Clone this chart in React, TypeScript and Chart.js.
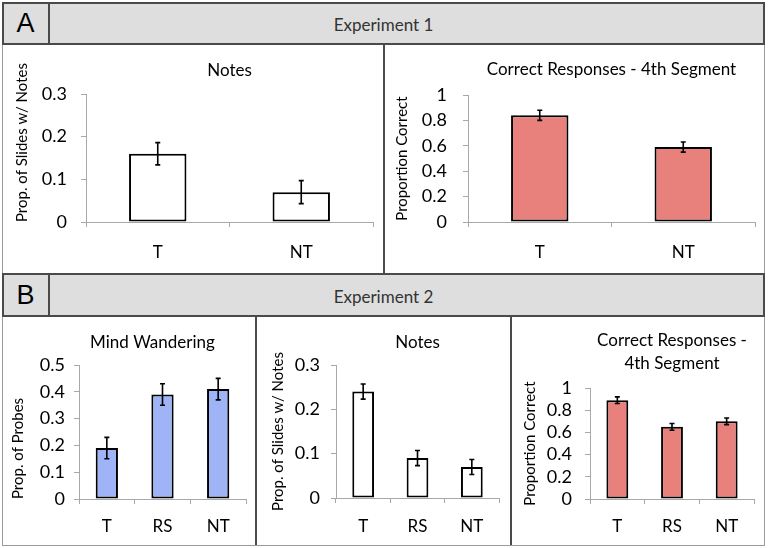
import React, { useEffect, useRef } from "react";
import { Chart, registerables } from "chart.js";

Chart.register(...registerables);

// ---------- data ----------
const catsA = ["T", "NT"];
const catsB = ["T", "RS", "NT"];

const notesA = [0.16, 0.07];
const notesAErr = [0.026, 0.027];
const correctA = [0.84, 0.59];
const correctAErr = [0.04, 0.04];

const mindB = [0.19, 0.39, 0.41];
const mindBErr = [0.04, 0.04, 0.04];
const notesB = [0.24, 0.09, 0.07];
const notesBErr = [0.017, 0.017, 0.017];
const correctB = [0.89, 0.65, 0.7];
const correctBErr = [0.03, 0.03, 0.03];

const ticks03 = [0, 0.1, 0.2, 0.3];
const ticks05 = [0, 0.1, 0.2, 0.3, 0.4, 0.5];
const ticks1 = [0, 0.2, 0.4, 0.6, 0.8, 1];

const headerA = "Experiment 1";
const headerB = "Experiment 2";

const FONT = "Lato, 'Open Sans', sans-serif";
const WHITE = "#ffffff";
const SALMON = "#e8807b";
const BLUE = "#9fb4f6";
const AXIS = "#a8a8a8";
const TEXT = "#000000";

type Panel = {
  cell: [number, number, number, number];
  area: [number, number, number, number]; // l, t, r, b
  title: string | string[];
  titleY: number;
  titleLH: number;
  titleDX: number;
  yTitle: string;
  yTitleX: number;
  yTitleAlign: "center" | "start";
  yTickGap: number;
  xLabelY: number;
  labels: string[];
  values: number[];
  errs: number[];
  ticks: number[];
  color: string;
};

const panels: Panel[] = [
  {
    cell: [3, 45, 380, 228],
    area: [86, 94, 373, 222],
    title: "Notes",
    titleY: 71,
    titleLH: 1.2,
    titleDX: 0,
    yTitle: "Prop. of Slides w/ Notes",
    yTitleX: 22,
    yTitleAlign: "start",
    yTickGap: 19,
    xLabelY: 253,
    labels: catsA,
    values: notesA,
    errs: notesAErr,
    ticks: ticks03,
    color: WHITE,
  },
  {
    cell: [385, 45, 379, 228],
    area: [468, 95, 755, 222],
    title: "Correct Responses - 4th Segment",
    titleY: 70,
    titleLH: 1.2,
    titleDX: 0,
    yTitle: "Proportion Correct",
    yTitleX: 402,
    yTitleAlign: "center",
    yTickGap: 21,
    xLabelY: 253,
    labels: catsA,
    values: correctA,
    errs: correctAErr,
    ticks: ticks1,
    color: SALMON,
  },
  {
    cell: [3, 317, 252, 228],
    area: [79, 365, 246, 499],
    title: "Mind Wandering",
    titleY: 342.7,
    titleLH: 1.2,
    titleDX: -10,
    yTitle: "Prop. of Probes",
    yTitleX: 18,
    yTitleAlign: "start",
    yTickGap: 14,
    xLabelY: 527,
    labels: catsB,
    values: mindB,
    errs: mindBErr,
    ticks: ticks05,
    color: BLUE,
  },
  {
    cell: [257, 317, 253, 228],
    area: [336, 365, 499, 498],
    title: "Notes",
    titleY: 342.7,
    titleLH: 1.2,
    titleDX: 0,
    yTitle: "Prop. of Slides w/ Notes",
    yTitleX: 278,
    yTitleAlign: "center",
    yTickGap: 16,
    xLabelY: 527,
    labels: catsB,
    values: notesB,
    errs: notesBErr,
    ticks: ticks03,
    color: WHITE,
  },
  {
    cell: [512, 317, 252, 228],
    area: [590, 388, 754, 499],
    title: ["Correct Responses -", "4th Segment"],
    titleY: 341,
    titleLH: 23 / 17,
    titleDX: 0,
    yTitle: "Proportion Correct",
    yTitleX: 530,
    yTitleAlign: "center",
    yTickGap: 18,
    xLabelY: 527,
    labels: catsB,
    values: correctB,
    errs: correctBErr,
    ticks: ticks1,
    color: SALMON,
  },
];

const errorBars = {
  id: "errorBars",
  afterDatasetsDraw(chart: any, _args: any, opts: any) {
    const errs: number[] = opts.errs || [];
    const meta = chart.getDatasetMeta(0);
    const y = chart.scales.y;
    const vals = chart.data.datasets[0].data as number[];
    const ctx = chart.ctx;
    ctx.save();
    ctx.strokeStyle = "#000";
    ctx.lineWidth = 1.6;
    const cap = 2.5;
    meta.data.forEach((bar: any, i: number) => {
      const x = bar.x;
      const top = y.getPixelForValue(vals[i] + errs[i]);
      const bot = y.getPixelForValue(vals[i] - errs[i]);
      ctx.beginPath();
      ctx.moveTo(x, top);
      ctx.lineTo(x, bot);
      ctx.moveTo(x - cap, top);
      ctx.lineTo(x + cap, top);
      ctx.moveTo(x - cap, bot);
      ctx.lineTo(x + cap, bot);
      ctx.stroke();
    });
    ctx.restore();
  },
};

const shiftTitle = {
  id: "shiftTitle",
  afterLayout(chart: any, _args: any, opts: any) {
    const t = chart.titleBlock;
    if (t && opts.dx) {
      t.left += opts.dx;
      t.right += opts.dx;
    }
  },
};

const fmt = (v: any) => String(+Number(v).toFixed(3));

function ChartPanel({ p }: { p: Panel }) {
  const ref = useRef<HTMLCanvasElement | null>(null);
  useEffect(() => {
    const [cx, cy, cw, ch] = p.cell;
    const [l, t, r, b] = p.area;
    const yAxisW = l - cx;
    const padRight = cx + cw - r;
    const xAxisH = cy + ch - b;
    const titleSize = 17;
    const lh = titleSize * p.titleLH;
    const lines = Array.isArray(p.title) ? p.title.length : 1;
    const tpTop = p.titleY - lh / 2 - cy;
    const tpBottom = t - cy - tpTop - lines * lh;
    const yTitleLH = 15 * 1.2;
    const ytp = p.yTitleX - cx - yTitleLH / 2;
    const tickLen = 5;
    const xTickFont = 17;
    const xPad = p.xLabelY - b - tickLen - (xTickFont * 1.2) / 2;

    const chart = new Chart(ref.current as HTMLCanvasElement, {
      type: "bar",
      data: {
        labels: p.labels,
        datasets: [
          {
            data: p.values,
            backgroundColor: p.color,
            borderColor: "#000",
            borderWidth: 2,
            borderSkipped: false,
            categoryPercentage: 1,
            barPercentage: 0.4,
          },
        ],
      },
      plugins: [errorBars, shiftTitle],
      options: {
        animation: false,
        responsive: false,
        devicePixelRatio: 1,
        layout: { padding: { left: 0, top: 0, right: padRight, bottom: 0 } },
        plugins: {
          legend: { display: false },
          tooltip: { enabled: false },
          title: {
            display: true,
            text: p.title,
            fullSize: false,
            color: TEXT,
            font: { family: FONT, size: titleSize, weight: "normal", lineHeight: p.titleLH },
            padding: { top: tpTop, bottom: tpBottom },
          },
          errorBars: { errs: p.errs },
          shiftTitle: { dx: p.titleDX },
        } as any,
        scales: {
          x: {
            type: "category",
            offset: true,
            grid: {
              offset: true,
              drawOnChartArea: false,
              drawTicks: true,
              tickLength: tickLen,
              color: AXIS,
            },
            border: { color: AXIS, width: 1 },
            ticks: {
              color: TEXT,
              font: { family: FONT, size: xTickFont },
              padding: xPad,
              maxRotation: 0,
              autoSkip: false,
            },
            afterFit: (s: any) => {
              s.height = xAxisH;
            },
          },
          y: {
            min: 0,
            max: p.ticks[p.ticks.length - 1],
            grid: {
              drawOnChartArea: false,
              drawTicks: true,
              tickLength: tickLen,
              color: AXIS,
            },
            border: { color: AXIS, width: 1 },
            ticks: {
              color: TEXT,
              font: { family: FONT, size: 18 },
              padding: p.yTickGap - tickLen,
              autoSkip: false,
              callback: fmt,
            },
            title: {
              display: true,
              text: p.yTitle,
              color: TEXT,
              align: p.yTitleAlign,
              font: { family: FONT, size: 15, lineHeight: 1.2 },
              padding: { top: ytp, bottom: 0 },
            },
            afterBuildTicks: (s: any) => {
              s.ticks = p.ticks.map((v) => ({ value: v }));
            },
            afterFit: (s: any) => {
              s.width = yAxisW;
            },
          },
        },
      } as any,
    });
    return () => chart.destroy();
  }, [p]);
  const [cx, cy, cw, ch] = p.cell;
  return (
    <canvas
      ref={ref}
      width={cw}
      height={ch}
      style={{ position: "absolute", left: cx, top: cy, width: cw, height: ch }}
    />
  );
}

const abs = (left: number, top: number, width: number, height: number, extra: React.CSSProperties = {}): React.CSSProperties => ({
  position: "absolute",
  left,
  top,
  width,
  height,
  boxSizing: "border-box",
  ...extra,
});

export default function App() {
  const dark = "#4a4a4a";
  const headFill = "#dedede";
  return (
    <div style={abs(0, 0, 768, 548, { background: "#fff", overflow: "hidden" })}>
      {/* outer frame */}
      <div style={abs(2, 2, 763, 544, { border: "1px solid #9a9a9a" })} />
      {/* header A */}
      <div style={abs(2, 2, 763, 43, { background: headFill, border: `2px solid ${dark}` })} />
      <div style={abs(48, 2, 2, 43, { background: dark })} />
      <div
        style={abs(2, 2, 47, 43, {
          display: "flex",
          alignItems: "center",
          justifyContent: "center",
          font: "27px 'Liberation Sans', Arial, sans-serif",
          color: "#000",
        })}
      >
        A
      </div>
      <div
        style={abs(2, 2, 763, 43, {
          display: "flex",
          alignItems: "center",
          justifyContent: "center",
          font: `17px ${FONT}`,
          color: "#333",
          paddingTop: 2,
        })}
      >
        {headerA}
      </div>
      {/* divider A */}
      <div style={abs(383, 45, 2, 229, { background: dark })} />
      {/* header B */}
      <div style={abs(2, 273, 763, 44, { background: headFill, border: `2px solid ${dark}` })} />
      <div style={abs(48, 273, 2, 44, { background: dark })} />
      <div
        style={abs(2, 273, 47, 44, {
          display: "flex",
          alignItems: "center",
          justifyContent: "center",
          font: "27px 'Liberation Sans', Arial, sans-serif",
          color: "#000",
        })}
      >
        B
      </div>
      <div
        style={abs(2, 273, 763, 44, {
          display: "flex",
          alignItems: "center",
          justifyContent: "center",
          font: `17px ${FONT}`,
          color: "#333",
          paddingTop: 2,
        })}
      >
        {headerB}
      </div>
      {/* dividers B */}
      <div style={abs(255, 317, 2, 228, { background: dark })} />
      <div style={abs(510, 317, 2, 228, { background: dark })} />
      {panels.map((p, i) => (
        <ChartPanel key={i} p={p} />
      ))}
    </div>
  );
}
